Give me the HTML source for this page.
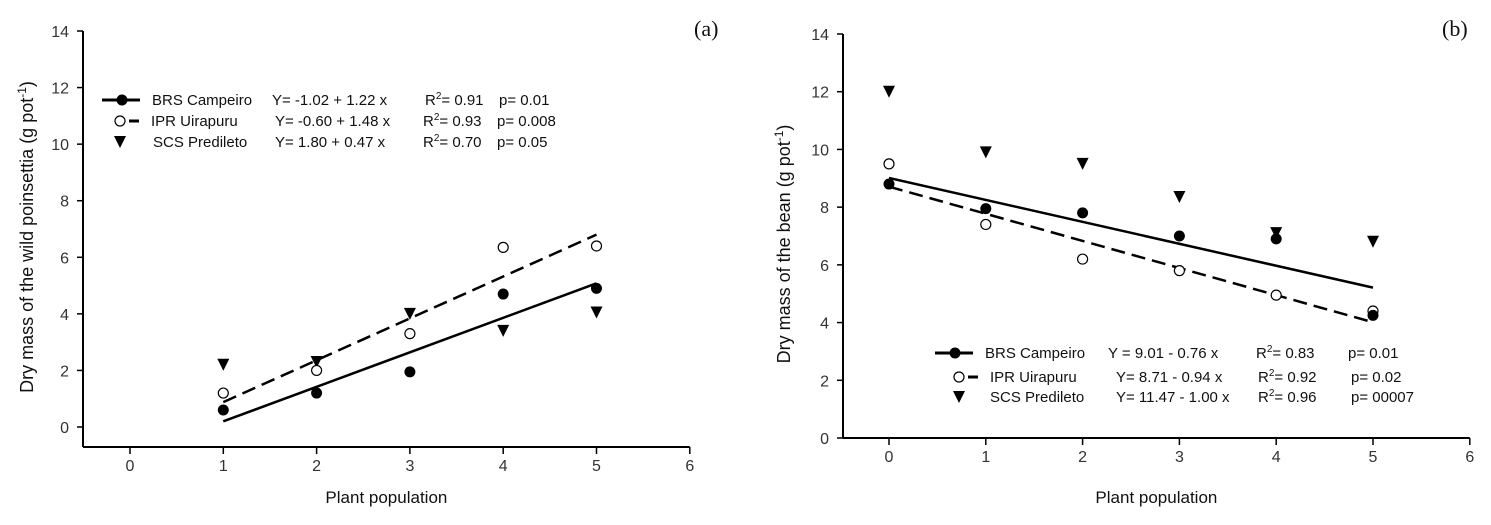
<!DOCTYPE html>
<html><head><meta charset="utf-8"><style>
body{margin:0;background:#fff;width:1491px;height:520px;overflow:hidden}
svg{font-family:"Liberation Sans",sans-serif}
.t{font-size:16px;fill:#333}
.lg{font-size:15px;fill:#111}
.at{font-size:17px;fill:#111}
.yt{font-size:18px;fill:#111}
</style></head><body>
<svg id="s" width="1491" height="520"></svg>
<script>
const xCats=[0,1,2,3,4,5,6];
const yTicks=[0,2,4,6,8,10,12,14];
const aX=[1,2,3,4,5];
const aBRS=[0.6,1.2,1.95,4.7,4.9];
const aIPR=[1.2,2.0,3.3,6.35,6.4];
const aSCS=[2.2,2.3,4.0,3.4,4.05];
const aFitBRS=[-1.02,1.22];
const aFitIPR=[-0.60,1.48];
const bX=[0,1,2,3,4,5];
const bBRS=[8.8,7.95,7.8,7.0,6.9,4.25];
const bIPR=[9.5,7.4,6.2,5.8,4.95,4.4];
const bSCS=[12,9.9,9.5,8.35,7.1,6.8];
const bFitBRS=[9.01,-0.76];
const bFitIPR=[8.71,-0.94];
const S=document.getElementById('s');
const NS='http://www.w3.org/2000/svg';
function mk(t,a,p){const e=document.createElementNS(NS,t);for(const k in a)e.setAttribute(k,a[k]);(p||S).appendChild(e);return e;}
function panel(o){
 const g=mk('g',{});
 
 
 const X=v=>o.x0+(v)*(o.x1-o.x0);
 const Y=v=>o.y0-(v/14)*(o.y0-o.y14);
 const ax=mk('path',{d:`M${o.axX},${o.y14}V${o.axY}`,stroke:'#000','stroke-width':2,fill:'none'},g);
 
 yTicks.forEach(v=>{mk('line',{x1:o.axX-6,x2:o.axX,y1:Y(v),y2:Y(v),stroke:'#000','stroke-width':1.5},g);
  const t=mk('text',{x:o.axX-14,y:Y(v)+6,'text-anchor':'end',class:'t'},g);t.textContent=v;
  });
 const xa=mk('path',{d:`M${o.axX},${o.axY}H${X(6)}`,stroke:'#000','stroke-width':2,fill:'none'},g);
 
 xCats.forEach(v=>{mk('line',{x1:X(v),x2:X(v),y1:o.axY,y2:o.axY+7,stroke:'#000','stroke-width':1.5},g);
  const t=mk('text',{x:X(v),y:o.axY+24,'text-anchor':'middle',class:'t'},g);t.textContent=v;
  });
 let t=mk('text',{x:(o.axX+X(6))/2,y:503,'text-anchor':'middle',class:'at'},g);t.textContent='Plant population';
 
 t=mk('text',{transform:`translate(${o.ylx},${(o.y14+o.y0)/2+8}) rotate(-90)`,'text-anchor':'middle',class:'yt'},g);
 t.innerHTML=o.ylab+' (g pot<tspan dy="-7" font-size="12">-1</tspan><tspan dy="7">)</tspan>';
 
 t=mk('text',{x:o.tagX,y:36,'font-family':'Liberation Serif, serif','font-size':'22px',fill:'#111'},g);t.textContent=o.tag;
 
 const xs=o.xs,xe=o.xs[o.xs.length-1],xb=o.xs[0];
 [[o.fit1,'none','solid'],[o.fit2,'14,7','dashed']].forEach(([f,d,n])=>{
  const l=mk('line',{x1:X(xb),y1:Y(f[0]+f[1]*xb),x2:X(xe),y2:Y(f[0]+f[1]*xe),stroke:'#000','stroke-width':2.5,'stroke-dasharray':d},g);
  });
 function tri(cx,cy){return `M${cx-6},${cy-6}H${cx+6}L${cx},${cy+6}Z`;}
 o.s3.forEach((v,i)=>{const m=mk('path',{d:tri(X(xs[i]),Y(v)),fill:'#000'},g);});
 o.s2.forEach((v,i)=>{const m=mk('circle',{cx:X(xs[i]),cy:Y(v),r:5,fill:'#fff',stroke:'#000','stroke-width':1.2},g);});
 o.s1.forEach((v,i)=>{const m=mk('circle',{cx:X(xs[i]),cy:Y(v),r:5.5,fill:'#000'},g);});
 const L=o.leg;
 L.rows.forEach((r,i)=>{
  const y=L.ys[i];
  if(i==0){mk('line',{x1:L.lx,x2:L.lx+38,y1:y,y2:y,stroke:'#000','stroke-width':3},g);mk('circle',{cx:L.lx+20,cy:y,r:5.5,fill:'#000'},g);}
  if(i==1){mk('circle',{cx:L.lx+L.cOff,cy:y,r:5,fill:'#fff',stroke:'#000','stroke-width':1.2},g);mk('line',{x1:L.lx+L.cOff+9,x2:L.lx+L.cOff+19,y1:y,y2:y,stroke:'#000','stroke-width':3},g);}
  if(i==2){mk('path',{d:tri(L.lx+L.cOff,y),fill:'#000'},g);}
  r.forEach((s,j)=>{const tt=mk('text',{x:L.cols[i][j],y:y+5,class:'lg'},g);
   if(s.startsWith('R2')){tt.innerHTML='R<tspan dy="-6" font-size="10">2</tspan><tspan dy="6">'+s.slice(2)+'</tspan>';}
   else tt.textContent=s;
   });
 });
}
panel({name:'panel-a',x0:130,x1:223.3,y0:427,y14:31,axX:83,axY:447,ylx:33,ylab:'Dry mass of the wild poinsettia',tag:'(a)',tagX:694,
 xs:aX,s1:aBRS,s2:aIPR,s3:aSCS,fit1:aFitBRS,fit2:aFitIPR,
 leg:{lx:102,cOff:18,ys:[100,121,142],rows:[['BRS Campeiro','Y= -1.02 + 1.22 x','R2= 0.91','p= 0.01'],['IPR Uirapuru','Y= -0.60 + 1.48 x','R2= 0.93','p= 0.008'],['SCS Predileto','Y= 1.80 + 0.47 x','R2= 0.70','p= 0.05']],
 cols:[[152,272,425,499],[151,275,423,497],[153,275,423,497]]}});
panel({name:'panel-b',x0:889,x1:985.8,y0:438,y14:34,axX:843,axY:438,ylx:790,ylab:'Dry mass of the bean',tag:'(b)',tagX:1442,
 xs:bX,s1:bBRS,s2:bIPR,s3:bSCS,fit1:bFitBRS,fit2:bFitIPR,
 leg:{lx:935,cOff:24,ys:[353,377,397],rows:[['BRS Campeiro','Y = 9.01 - 0.76 x','R2= 0.83','p= 0.01'],['IPR Uirapuru','Y= 8.71 - 0.94 x','R2= 0.92','p= 0.02'],['SCS Predileto','Y= 11.47 - 1.00 x','R2= 0.96','p= 00007']],
 cols:[[985,1108,1256,1348],[990,1116,1258,1351],[990,1116,1258,1351]]}});
</script>
</body></html>
